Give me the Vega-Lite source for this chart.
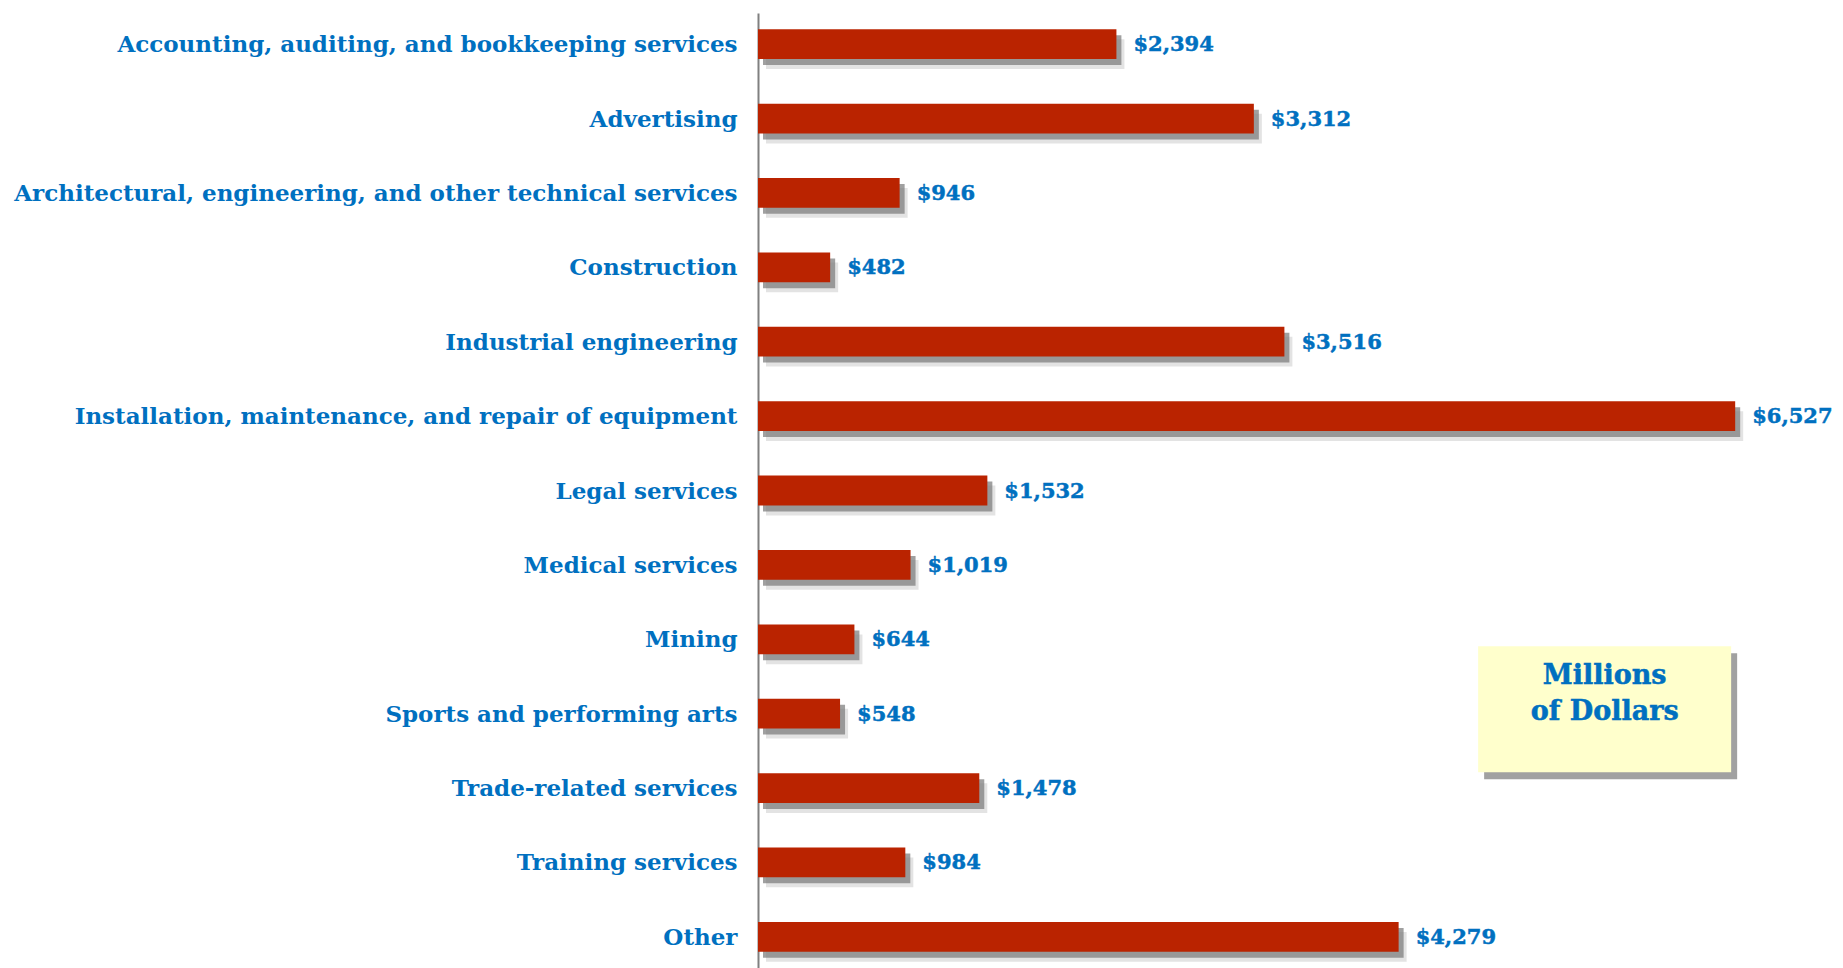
{
  "$schema": "https://vega.github.io/schema/vega-lite/v6.json",
  "autosize": {"type": "none"},
  "width": 1048,
  "height": 955,
  "padding": {"left": 758, "top": 13, "right": 37, "bottom": 0},
  "background": "#ffffff",
  "config": {"view": {"stroke": null}},
  "datasets": {
    "bars": [
      {"category": "Accounting, auditing, and bookkeeping services", "value": 2394},
      {"category": "Advertising", "value": 3312},
      {"category": "Architectural, engineering, and other technical services", "value": 946},
      {"category": "Construction", "value": 482},
      {"category": "Industrial engineering", "value": 3516},
      {"category": "Installation, maintenance, and repair of equipment", "value": 6527},
      {"category": "Legal services", "value": 1532},
      {"category": "Medical services", "value": 1019},
      {"category": "Mining", "value": 644},
      {"category": "Sports and performing arts", "value": 548},
      {"category": "Trade-related services", "value": 1478},
      {"category": "Training services", "value": 984},
      {"category": "Other", "value": 4279}
    ],
    "box": [
      {"x1": 4810, "x2": 6500, "y1": 66.3, "y2": 79.5}
    ],
    "notes": [
      {"label": "Millions", "x": 5655, "y": 70.3},
      {"label": "of Dollars", "x": 5655, "y": 74.0}
    ]
  },
  "layer": [
    {
      "data": {"name": "bars"},
      "encoding": {
        "y": {
          "field": "category",
          "type": "nominal",
          "sort": null,
          "scale": {"paddingInner": 0.6, "paddingOuter": 0.22},
          "axis": {
            "title": null,
            "ticks": false,
            "labelFont": "DejaVu Serif",
            "labelFontWeight": "bold",
            "labelFontSize": 23,
            "labelColor": "#0070C0",
            "labelPadding": 21,
            "labelLimit": 0,
            "labelOffset": 1,
            "domainColor": "#808080",
            "domainWidth": 2
          }
        },
        "x": {
          "field": "value",
          "type": "quantitative",
          "scale": {"domain": [0, 7000], "nice": false},
          "axis": null
        }
      },
      "layer": [
        {"mark": {"type": "bar", "color": "#b0b0b0", "opacity": 0.35, "xOffset": 8, "yOffset": 10}},
        {"mark": {"type": "bar", "color": "#777777", "opacity": 0.7, "xOffset": 5, "yOffset": 6}},
        {"mark": {"type": "bar", "color": "#BA2300"}},
        {
          "mark": {"type": "text", "align": "left", "baseline": "middle", "dx": 17, "dy": 1, "font": "DejaVu Serif", "fontWeight": "bold", "fontSize": 21, "color": "#0070C0", "stroke": "#0070C0", "strokeWidth": 0.5},
          "encoding": {"text": {"field": "value", "type": "quantitative", "format": "$,"}}
        }
      ]
    },
    {
      "layer": [
        {
          "data": {"name": "box"},
          "mark": {"type": "rect", "color": "#8a8a8a", "opacity": 0.8, "xOffset": 6, "yOffset": 7, "x2Offset": 6, "y2Offset": 7},
          "encoding": {
            "x": {"field": "x1", "type": "quantitative"},
            "x2": {"field": "x2"},
            "y": {"field": "y1", "type": "quantitative", "scale": {"domain": [0, 100], "reverse": true, "nice": false}, "axis": null},
            "y2": {"field": "y2"}
          }
        },
        {
          "data": {"name": "box"},
          "mark": {"type": "rect", "color": "#FFFFCC"},
          "encoding": {
            "x": {"field": "x1", "type": "quantitative"},
            "x2": {"field": "x2"},
            "y": {"field": "y1", "type": "quantitative", "scale": {"domain": [0, 100], "reverse": true, "nice": false}, "axis": null},
            "y2": {"field": "y2"}
          }
        },
        {
          "data": {"name": "notes"},
          "mark": {"type": "text", "align": "center", "baseline": "alphabetic", "font": "DejaVu Serif", "fontWeight": "bold", "fontSize": 27, "color": "#0070C0", "stroke": "#0070C0", "strokeWidth": 0.5},
          "encoding": {
            "x": {"field": "x", "type": "quantitative"},
            "y": {"field": "y", "type": "quantitative", "scale": {"domain": [0, 100], "reverse": true, "nice": false}, "axis": null},
            "text": {"field": "label"}
          }
        }
      ]
    }
  ],
  "resolve": {"scale": {"y": "independent"}}
}
